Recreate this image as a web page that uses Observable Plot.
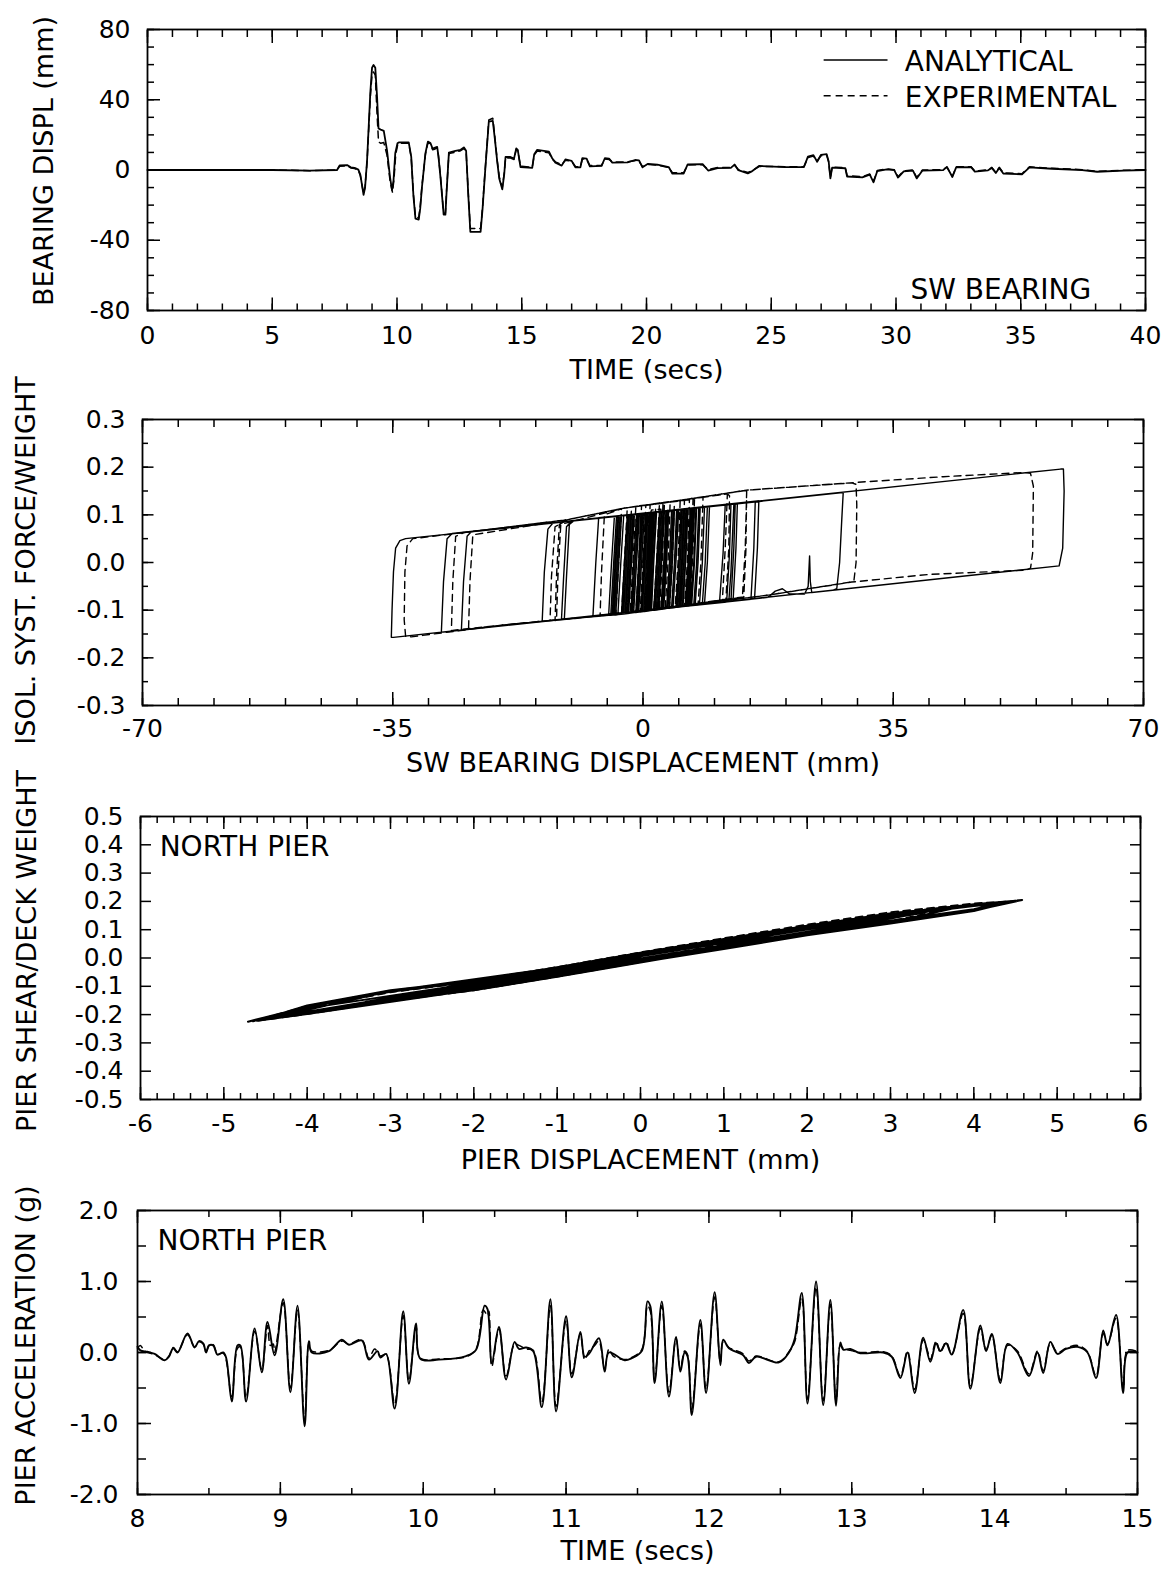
<!DOCTYPE html>
<html>
<head>
<meta charset="utf-8">
<script src="https://cdn.jsdelivr.net/npm/d3@7"></script>
<script src="https://cdn.jsdelivr.net/npm/@observablehq/plot@0.6"></script>
<style>
  html, body { margin: 0; padding: 0; background: #fff; }
  #figure { position: relative; width: 1168px; height: 1571px; background: #fff; }
  #figure svg { position: absolute; left: 0; }
</style>
</head>
<body>
<div id="figure"></div>
<script>
// ---------- Panel 1: SW bearing displacement history (time s, displacement mm) ----------
const bearingAnalytical = [[0,0],[5,0],[6.5,-0.3],[7.6,0],[7.7,2.6],[8.0,2.8],[8.15,1.5],[8.3,1.2],[8.45,0.2],[8.53,-2.6],[8.66,-14.1],[8.72,-10],[8.8,5.3],[8.93,43.9],[9.0,58.3],[9.06,59.8],[9.13,58.2],[9.2,41.9],[9.26,23.6],[9.35,23],[9.47,22.3],[9.6,11.2],[9.72,-4],[9.8,-11.4],[9.86,-6],[9.93,9.5],[10.02,15.2],[10.07,15.7],[10.47,15.7],[10.57,7.6],[10.66,-15],[10.74,-27.7],[10.87,-28.2],[10.93,-22],[11.0,-9.8],[11.14,9.6],[11.24,16.2],[11.34,15.4],[11.43,12.0],[11.5,12.6],[11.61,13.2],[11.66,8],[11.74,-3.8],[11.87,-25.4],[11.94,-25.4],[11.99,-12],[12.08,9.9],[12.34,10.9],[12.55,11.5],[12.68,12.9],[12.77,11.0],[12.86,-15],[12.94,-35.2],[13.35,-35.2],[13.43,-22],[13.52,-3.3],[13.68,27.6],[13.84,28.0],[13.92,18],[14.02,4.5],[14.1,-5],[14.22,-11.0],[14.3,-2],[14.35,7.4],[14.55,7.4],[14.69,6.5],[14.78,12.3],[14.84,11.5],[14.95,1.7],[15.42,1.2],[15.5,9],[15.62,11.5],[16.09,10.5],[16.22,6.7],[16.35,4.2],[16.6,2.5],[16.75,6],[17.0,5.2],[17.15,1.5],[17.35,1.5],[17.43,6.8],[17.6,6.5],[17.73,2.1],[18.2,2.3],[18.33,6.7],[18.5,6.5],[18.63,4.2],[19.24,4.3],[19.54,5.7],[19.7,5.5],[19.84,1.5],[20.06,3.5],[20.44,3.0],[20.89,1.7],[21.04,-2.1],[21.49,-2.0],[21.65,3.2],[22.25,3.3],[22.47,-0.3],[22.85,1.1],[23.38,1.2],[23.53,3.1],[23.68,-0.1],[24.06,-1.9],[24.2,-1],[24.51,2.3],[25.56,1.6],[26.31,1.7],[26.47,7.6],[26.69,8.5],[26.84,4.7],[26.99,8.6],[27.22,9.0],[27.3,5],[27.37,-4.8],[27.44,1.4],[27.97,1.0],[28.04,-3.7],[28.65,-4.2],[28.95,-2.6],[29.1,-7.0],[29.25,-0.6],[29.63,0.4],[29.93,-0.1],[30.08,-4.3],[30.31,-0.8],[30.68,-0.3],[30.83,-4.8],[31.06,-0.3],[31.89,-0.1],[32.04,1.8],[32.26,-4.0],[32.41,1.5],[33.01,1.6],[33.16,-0.9],[33.69,-0.2],[33.84,1.2],[34.0,-1.7],[34.14,1.2],[34.3,-2.0],[35.05,-2.5],[35.35,1.5],[36.25,0.7],[37.46,-0.1],[38.06,-1.0],[39.12,-0.4],[40,0]];

const bearingExperimental = [[0,0],[5,0],[6.5,-0.4],[7.6,0],[7.7,2.2],[8.0,2.4],[8.15,1.2],[8.3,0.8],[8.45,-0.2],[8.53,-3.2],[8.66,-13.5],[8.72,-9.5],[8.8,4.5],[8.93,41.5],[9.0,54.5],[9.06,55.8],[9.13,54],[9.2,32],[9.26,16],[9.35,15.2],[9.47,15.6],[9.6,8.5],[9.72,-6],[9.82,-12.8],[9.88,-5],[9.95,9],[10.03,14.5],[10.07,15.2],[10.47,15.3],[10.57,7],[10.66,-14],[10.74,-26.8],[10.87,-27.2],[10.93,-21],[11.0,-9],[11.14,9],[11.24,15.5],[11.34,15],[11.43,11.5],[11.5,11.8],[11.61,12.6],[11.66,8],[11.74,-3],[11.87,-24.6],[11.94,-24.6],[11.99,-11],[12.08,9.4],[12.34,10.2],[12.55,11],[12.68,12.2],[12.77,10.5],[12.86,-14],[12.94,-33.3],[13.35,-33.3],[13.43,-21],[13.52,-2.5],[13.68,28.5],[13.84,29.5],[13.92,19],[14.02,5],[14.1,-4],[14.22,-10],[14.3,-1.5],[14.35,6.8],[14.55,6.8],[14.69,6],[14.78,11.8],[14.84,11],[14.95,2.2],[15.42,1.6],[15.5,8.5],[15.62,10.8],[16.09,9.8],[16.22,6.2],[16.35,4.6],[16.6,3],[16.75,5.6],[17.0,5],[17.15,2],[17.35,1.8],[17.43,6.3],[17.6,6],[17.73,2.5],[18.2,2.6],[18.33,6.2],[18.5,6],[18.63,4.6],[19.24,4.6],[19.54,5.3],[19.7,5],[19.84,1.9],[20.06,3.2],[20.44,2.7],[20.89,1.4],[21.04,-1.6],[21.49,-1.6],[21.65,2.9],[22.25,3],[22.47,0.2],[22.85,1.4],[23.38,1.5],[23.53,2.8],[23.68,0.3],[24.06,-1.4],[24.2,-0.7],[24.51,2],[25.56,1.9],[26.31,1.9],[26.47,7],[26.69,7.9],[26.84,5.1],[26.99,8.1],[27.22,8.5],[27.3,4.5],[27.37,-4.2],[27.44,1.7],[27.97,1.3],[28.04,-3.2],[28.65,-3.8],[28.95,-2.3],[29.1,-6.4],[29.25,-0.3],[29.63,0.7],[29.93,0.2],[30.08,-3.8],[30.31,-0.5],[30.68,0],[30.83,-4.3],[31.06,0],[31.89,0.2],[32.04,1.6],[32.26,-3.6],[32.41,1.8],[33.01,1.9],[33.16,-0.6],[33.69,0.1],[33.84,1.5],[34.0,-1.3],[34.14,1.5],[34.3,-1.6],[35.05,-2.1],[35.35,1.8],[36.25,1],[37.46,0.2],[38.06,-0.7],[39.12,-0.2],[40,0.2]];

// ---------- Panel 2: isolation system hysteresis (bearing displacement mm, force/weight) ----------
const isolatorAnalytical = [[0,0],[0.4,0.07],[1,0.105],[2.8,0.107],[2.6,0.02],[2.2,-0.098],
[-13.6,-0.123],[-14.1,-0.124],[-13.8,-0.02],[-13.3,0.07],[-12.6,0.083],
[58.4,0.196],[58.8,0.196],[58.9,0.15],[58.7,0.03],[58.2,-0.007],
[23.6,-0.063],[23.4,-0.04],[23.3,0.014],[23.1,-0.05],[22.6,-0.066],[20.5,-0.066],[19.5,-0.055],[18.5,-0.06],[17.5,-0.073],
[-11.2,-0.119],[-11.4,-0.119],[-11.1,-0.03],[-10.7,0.075],[-10,0.087],
[15.5,0.128],[15.7,0.128],[15.5,0.03],[15.1,-0.077],
[-27.9,-0.146],[-28.2,-0.146],[-27.9,-0.04],[-27.4,0.05],[-26.7,0.061],
[16,0.129],[16.2,0.129],[16,0.03],[15.6,-0.076],
[12,-0.082],[12.3,-0.02],[12.7,0.12],[13.2,0.124],[13,0.03],[12.6,-0.08],
[-25.1,-0.141],[-25.4,-0.142],[-25.1,-0.04],[-24.6,0.055],[-24,0.065],
[12.9,0.124],[12.7,0.03],[12.3,-0.081],
[-34.9,-0.157],[-35.2,-0.157],[-35.1,-0.1],[-34.9,-0.02],[-34.6,0.03],[-34,0.046],[-33.2,0.05],
[27.6,0.146],[28,0.146],[27.8,0.09],[27.5,0],[27.1,-0.055],[26.6,-0.058],
[-10.7,-0.118],[-11,-0.119],[-10.7,-0.03],[-10.3,0.08],[-9.6,0.088],
[7.4,0.114],[7.1,0],[6.6,-0.091],[6.5,-0.091],[6.8,0],[7.2,0.114],
[12.3,0.122],[12.1,0.02],[11.7,-0.083],[1.2,-0.099],[1.5,0],[1.9,0.106],
[11.5,0.121],[11.2,0.02],[10.7,-0.084],[2.2,-0.097],[2.6,0],[3,0.108],
[6.3,0.113],[6,0.01],[5.6,-0.092],[1.5,-0.099],[1.9,0],[2.3,0.106],
[6.8,0.113],[6.5,0],[6.1,-0.091],[2.1,-0.098],[2.5,0],[2.9,0.107],
[6.7,0.113],[6.4,0],[6,-0.091],[4.2,-0.094],[4.6,0],[5,0.111],
[5.7,0.112],[5.4,0],[5,-0.093],[1.5,-0.099],[1.9,0],[2.3,0.106],
[3.5,0.109],[3.2,0],[2.8,-0.096],[-2.1,-0.104],[-1.7,0],[-1.3,0.101],
[3.3,0.108],[3,0],[2.6,-0.097],[-0.3,-0.101],[0.1,0],[0.5,0.104],
[9,0.117],[8.7,0],[8.3,-0.087],[-4.8,-0.109],[-4.4,0],[-4,0.097],
[8.6,0.116],[8.3,0],[7.9,-0.088],[-4.2,-0.108],[-3.8,0],[-3.4,0.098],
[1.4,0.105],[1.1,0],[0.7,-0.1],[-4.2,-0.108],[-3.8,0],[-3.4,0.098],
[1.0,0.105],[0.7,0],[0.3,-0.1],[-7,-0.112],[-6.6,0],[-6.2,0.094],
[0.4,0.104],[0.1,0],[-0.3,-0.101],[-4.3,-0.108],[-3.9,0],[-3.5,0.097],
[-0.3,0.102],[-0.6,0],[-1,-0.103],[-4.8,-0.109],[-4.4,0],[-4,0.097],
[1.8,0.106],[1.5,0],[1.1,-0.099],[-4,-0.107],[-3.6,0],[-3.2,0.098],
[1.6,0.106],[1.3,0],[0.9,-0.1],[-0.9,-0.102],[-0.5,0],[-0.1,0.103],
[1.2,0.105],[0.9,0],[0.5,-0.1],[-1.7,-0.104],[-1.3,0],[-0.9,0.101],
[1.2,0.105],[0.9,0],[0.5,-0.1],[-2.5,-0.105],[-2.1,0],[-1.7,0.1],
[1.5,0.105],[1.2,0],[0.8,-0.1],[-0.2,-0.101],[0.2,0],[0.6,0.104],
[9.3,0.118],[9,0],[8.6,-0.087],[-4.5,-0.108],[-4.1,0],[-3.7,0.097],
[8,0.116],[7.7,0],[7.3,-0.089],[-3.5,-0.107],[-3.1,0],[-2.7,0.098],
[7.5,0.115],[7.2,0],[6.8,-0.09],[-3,-0.106],[-2.6,0],[-2.2,0.099],
[7,0.114],[6.7,0],[6.3,-0.091],[-2.7,-0.105],[-2.3,0],[-1.9,0.1],
[6.6,0.113],[6.3,0],[5.9,-0.091],[-2.4,-0.105],[-2,0],[-1.6,0.1],
[6.2,0.113],[5.9,0],[5.5,-0.092],[-2,-0.104],[-1.6,0],[-1.2,0.101],
[5.8,0.112],[5.5,0],[5.1,-0.093],[-1.7,-0.104],[-1.3,0],[-0.9,0.101],
[5.3,0.111],[5,0],[4.6,-0.094],[-1.3,-0.103],[-0.9,0],[-0.5,0.102],
[4.9,0.111],[4.6,0],[4.2,-0.094],[-1,-0.103],[-0.6,0],[-0.2,0.103],
[4.4,0.11],[4.1,0],[3.7,-0.095],[-0.6,-0.102],[-0.2,0],[0.2,0.103],
[4,0.109],[3.7,0],[3.3,-0.096],[-0.3,-0.101],[0.1,0],[0.5,0.104],
[3.6,0.109],[3.3,0],[2.9,-0.096],[0.1,-0.101],[0.5,0],[0.9,0.104],
[3.2,0.108],[2.9,0],[2.5,-0.097],[0.4,-0.1],[0.8,0],[1.2,0.105],
[2.8,0.107],[2.5,0],[2.1,-0.098],[0.8,-0.1],[1.2,0],[1.6,0.105],
[2.4,0.107],[2.1,0],[1.7,-0.098],[1.2,-0.099],[1.5,0],[1.9,0.106],
[7.8,0.115],[7.5,0],[7.1,-0.089],[-3.8,-0.107],[-3.4,0],[-3.0,0.098],
[6.9,0.114],[6.6,0],[6.2,-0.091],[-2.9,-0.106],[-2.5,0],[-2.1,0.099],
[6.0,0.112],[5.7,0],[5.3,-0.092],[-2.2,-0.104],[-1.8,0],[-1.4,0.1],
[5.5,0.112],[5.2,0],[4.8,-0.093],[-1.5,-0.103],[-1.1,0],[-0.7,0.101],
[4.7,0.11],[4.4,0],[4.0,-0.094],[-0.8,-0.102],[-0.4,0],[0,0.103],
[4.2,0.109],[3.9,0],[3.5,-0.095],[-0.1,-0.101],[0.3,0],[0.7,0.104],
[3.4,0.108],[3.1,0],[2.7,-0.096],[0.6,-0.1],[1.0,0],[1.4,0.105],
[2.6,0.107],[2.3,0],[1.9,-0.098]];

const isolatorExperimental = [[0,0],[0.5,0.08],[1.2,0.11],[2.5,0.112],[2.3,0.02],[1.9,-0.098],
[-2.7,-0.108],[-12.6,-0.121],[-13,-0.122],[-12.8,-0.03],[-12.3,0.075],[-10.5,0.09],[-2.7,0.114],[5,0.13],[14.7,0.152],[29.8,0.168],[42,0.18],[53.4,0.189],[54.2,0.187],[54.6,0.16],[54.5,0.02],[54.2,-0.012],[53.6,-0.016],
[40,-0.025],[29.2,-0.041],[17.7,-0.068],[-2.7,-0.108],[-12,-0.121],[-12.3,-0.122],[-12.1,-0.03],[-11.7,0.08],[-10.5,0.09],[-2.7,0.114],[5,0.13],[14.2,0.151],[14.5,0.15],[14.4,0.03],[14.1,-0.072],
[-2.7,-0.108],[-18.4,-0.129],[-26.4,-0.142],[-26.8,-0.143],[-26.6,-0.04],[-26.2,0.055],[-25,0.063],[-10.5,0.09],[-2.7,0.114],[5,0.13],[14.2,0.151],[14.5,0.15],[14.3,0.03],[13.9,-0.073],
[-2.7,-0.108],[-18.4,-0.129],[-24,-0.139],[-24.4,-0.14],[-24.2,-0.04],[-23.8,0.058],[-10.5,0.09],[-2.7,0.114],[5,0.13],[11.8,0.144],[12.1,0.14],[12,0.03],[11.6,-0.077],
[-2.7,-0.108],[-18.4,-0.129],[-32.4,-0.156],[-33.2,-0.155],[-33.4,-0.12],[-33.3,-0.02],[-33,0.035],[-32.2,0.05],[-25,0.063],[-10.5,0.09],[-2.7,0.114],[5,0.13],[14.7,0.152],[29.2,0.167],[29.8,0.164],[29.9,0.12],[29.8,0],[29.5,-0.038],[29,-0.041],
[17.7,-0.068],[-2.7,-0.108],[-11.8,-0.12],[-12.1,-0.121],[-11.9,-0.03],[-11.5,0.08],[-2.7,0.114],[7.2,0.133],[7.0,0.03],[6.6,-0.088],
[-5.7,-0.11],[-6,-0.111],[-5.8,-0.02],[-5.4,0.1],[-2.7,0.114],[11.8,0.144],[11.5,0.03],[11.1,-0.08],
[1.5,-0.1],[1.9,0],[2.3,0.124],[6.5,0.133],[6.2,0],[5.8,-0.091],
[-1.8,-0.106],[-1.4,0],[-1,0.118],[8.4,0.137],[8.1,0],[7.7,-0.088],
[-3.8,-0.11],[-3.4,0],[-3,0.113],[5.2,0.13],[4.9,0],[4.5,-0.094],
[-2.4,-0.107],[-2,0],[-1.6,0.116],[7,0.134],[6.7,0],[6.3,-0.09],
[-1,-0.105],[-0.6,0],[-0.2,0.119],[3.8,0.128],[3.5,0],[3.1,-0.097],
[0.2,-0.103],[0.6,0],[1,0.121],[5.8,0.131],[5.5,0],[5.1,-0.093],
[-3,-0.108],[-2.6,0],[-2.2,0.115],[2.8,0.126],[2.5,0],[2.1,-0.098],
[-0.4,-0.104],[0,0],[0.4,0.12],[4.4,0.128],[4.1,0],[3.7,-0.096],
[1,-0.101],[1.4,0],[1.8,0.123],[3,0.126],[2.7,0],[2.3,-0.098]];

// ---------- Panel 3: north pier shear vs pier displacement (mm, shear/deck weight) ----------
const pierAnalytical = [[-4.71,-0.225],[-4,-0.172],[-3,-0.119],[-2,-0.083],[-1,-0.036],[0,0.016],[1,0.064],[2,0.111],[3,0.153],[4,0.188],[4.58,0.205],
[4,0.168],[3,0.126],[2,0.083],[1,0.036],[0,-0.012],[-1,-0.064],[-2,-0.111],[-3,-0.147],[-4,-0.195],[-4.5,-0.215],
[-4,-0.178],[-2,-0.089],[0,0.01],[2,0.105],[3,0.148],[4,0.184],[4.3,0.193],
[4,0.172],[3,0.132],[2,0.089],[0,-0.006],[-2,-0.105],[-3,-0.141],[-4,-0.19],[-4.4,-0.21],
[-3,-0.117],[-1,-0.034],[1,0.066],[2,0.113],[3,0.155],[3.8,0.178],
[3,0.126],[2,0.081],[1,0.034],[-1,-0.066],[-2,-0.113],[-3,-0.149],[-3.8,-0.18],
[-2,-0.093],[0,0.006],[2,0.101],[3.4,0.16],
[2,0.093],[0,-0.002],[-2,-0.101],[-3.3,-0.155],
[-2,-0.086],[0,0.013],[1,0.061],[2.6,0.13],
[2,0.086],[1,0.039],[0,-0.009],[-1,-0.061],[-2.6,-0.128],
[0,0.006],[1.8,0.094],[1,0.046],[0,-0.004],[-1.8,-0.09],[-1,-0.046],[0,0],
[-2,-0.112],[-4,-0.198],[-4.6,-0.222],
[-4,-0.168],[-3,-0.114],[-2,-0.08],[-1,-0.033],[0,0.019],[1,0.067],[2,0.114],[3,0.156],[4,0.19],[4.5,0.202],
[4,0.166],[3,0.122],[2,0.08],[1,0.032],[0,-0.015],[-1,-0.066],[-2,-0.114],[-3,-0.151],[-3.6,-0.176],
[-2,-0.09],[0,0.01],[2,0.108],[3,0.15],[3.6,0.172],
[2,0.085],[0,-0.01],[-2,-0.108],[-2.2,-0.112],[0,0]];

const pierExperimental = [[-4.65,-0.224],[-4,-0.17],[-3,-0.116],[-2,-0.08],[-1,-0.032],[0,0.02],[1,0.07],[2,0.118],[3,0.162],[4,0.193],[4.45,0.2],
[4,0.17],[3,0.128],[2,0.085],[1,0.038],[0,-0.014],[-1,-0.066],[-2,-0.114],[-3,-0.152],[-4,-0.198],[-4.6,-0.222],
[-4,-0.176],[-3,-0.121],[-2,-0.084],[0,0.015],[2,0.114],[3,0.158],[3.9,0.186],
[3,0.13],[2,0.087],[0,-0.01],[-2,-0.11],[-3,-0.15],[-3.9,-0.19],
[-2,-0.088],[0,0.012],[1,0.063],[2.8,0.15],
[2,0.09],[1,0.04],[0,-0.008],[-1,-0.06],[-2.8,-0.14],
[0,0.008],[2,0.104],[0,-0.004],[-2,-0.102],[0,0]];

// ---------- Panel 4: north pier acceleration history (time s, g) ----------
const pierAccAnalytical = [[8,0.08],[8.02,0.03],[8.07,0.01],[8.12,-0.02],[8.19,-0.11],[8.22,-0.06],[8.25,0.06],[8.28,0],[8.35,0.27],[8.4,0.07],[8.43,0.16],[8.46,0.13],[8.48,0],[8.5,0.1],[8.53,0.1],[8.56,-0.03],[8.6,0],[8.62,-0.07],[8.66,-0.69],[8.7,0.1],[8.72,0.1],[8.76,-0.69],[8.82,0.34],[8.87,-0.28],[8.91,0.43],[8.96,-0.04],[9.02,0.75],[9.07,-0.56],[9.12,0.66],[9.17,-1.04],[9.2,0.16],[9.22,0],[9.34,0.02],[9.43,0.18],[9.48,0.11],[9.57,0.17],[9.62,-0.1],[9.68,0.02],[9.7,-0.07],[9.74,-0.02],[9.8,-0.79],[9.86,0.58],[9.9,-0.44],[9.95,0.41],[9.98,-0.09],[10.11,-0.1],[10.3,-0.05],[10.37,0.04],[10.43,0.66],[10.45,0.61],[10.48,-0.15],[10.53,0.36],[10.58,-0.38],[10.64,0.15],[10.67,0.05],[10.72,0.07],[10.77,0.02],[10.83,-0.77],[10.89,0.75],[10.93,-0.83],[11.0,0.51],[11.04,-0.35],[11.1,0.29],[11.13,-0.06],[11.16,-0.02],[11.23,0.2],[11.27,-0.27],[11.3,0],[11.41,-0.11],[11.46,-0.08],[11.53,0.02],[11.57,0.72],[11.59,0.65],[11.62,-0.43],[11.67,0.72],[11.72,-0.62],[11.77,0.22],[11.8,-0.27],[11.83,0],[11.85,-0.05],[11.88,-0.88],[11.94,0.46],[11.98,-0.57],[12.04,0.85],[12.08,-0.18],[12.1,0.18],[12.14,0.06],[12.24,-0.04],[12.28,-0.15],[12.33,-0.06],[12.49,-0.14],[12.56,0],[12.6,0.19],[12.65,0.84],[12.69,-0.72],[12.75,1.0],[12.8,-0.74],[12.85,0.74],[12.89,-0.75],[12.92,0.14],[12.94,0.04],[12.99,0.05],[13.06,-0.01],[13.22,0],[13.28,-0.06],[13.34,-0.36],[13.39,0],[13.44,-0.57],[13.5,0.21],[13.55,-0.13],[13.59,0.13],[13.62,0.02],[13.66,0.13],[13.7,-0.03],[13.78,0.6],[13.83,-0.51],[13.9,0.38],[13.94,0.02],[13.98,0.26],[14.04,-0.43],[14.09,0.12],[14.16,0],[14.24,-0.33],[14.3,0],[14.34,-0.29],[14.39,0.15],[14.44,-0.02],[14.5,0.05],[14.58,0.08],[14.65,0],[14.71,-0.36],[14.76,0.31],[14.79,0.1],[14.85,0.53],[14.9,-0.57],[14.93,0],[15,0]];

const pierAccExperimental = [[8,0.06],[8.02,0.1],[8.05,0.02],[8.12,-0.03],[8.19,-0.1],[8.22,-0.05],[8.25,0.07],[8.28,0.01],[8.35,0.25],[8.4,0.08],[8.43,0.15],[8.46,0.12],[8.48,0.01],[8.5,0.09],[8.53,0.11],[8.56,-0.02],[8.6,-0.01],[8.62,-0.1],[8.66,-0.62],[8.7,0.06],[8.72,0.08],[8.76,-0.64],[8.82,0.3],[8.87,-0.24],[8.91,0.38],[8.93,0.1],[8.95,0.12],[8.96,0],[9.02,0.7],[9.07,-0.5],[9.12,0.6],[9.17,-0.96],[9.2,0.12],[9.22,0.02],[9.34,0.03],[9.43,0.16],[9.48,0.12],[9.57,0.18],[9.62,-0.08],[9.66,0.05],[9.7,-0.05],[9.74,-0.03],[9.8,-0.72],[9.86,0.52],[9.9,-0.4],[9.95,0.36],[9.98,-0.08],[10.11,-0.09],[10.3,-0.06],[10.37,0.05],[10.42,0.6],[10.45,0.52],[10.46,0.58],[10.48,-0.2],[10.53,0.33],[10.58,-0.33],[10.64,0.12],[10.67,0.1],[10.72,0.05],[10.77,0.03],[10.83,-0.7],[10.89,0.66],[10.93,-0.76],[11.0,0.45],[11.04,-0.3],[11.1,0.26],[11.13,-0.1],[11.16,0.02],[11.2,0.1],[11.23,0.16],[11.27,-0.22],[11.3,0.05],[11.33,-0.05],[11.41,-0.1],[11.46,-0.07],[11.53,0.04],[11.57,0.66],[11.59,0.58],[11.62,-0.38],[11.67,0.66],[11.72,-0.56],[11.77,0.2],[11.8,-0.22],[11.83,0.02],[11.85,-0.03],[11.88,-0.8],[11.94,0.4],[11.98,-0.52],[12.04,0.78],[12.08,-0.14],[12.1,0.15],[12.14,0.07],[12.24,-0.02],[12.28,-0.12],[12.33,-0.05],[12.49,-0.13],[12.56,0.01],[12.6,0.15],[12.65,0.76],[12.69,-0.66],[12.75,0.92],[12.8,-0.68],[12.85,0.68],[12.89,-0.7],[12.92,0.1],[12.94,0.06],[12.99,0.03],[13.06,0],[13.22,0.01],[13.28,-0.05],[13.34,-0.33],[13.39,0.02],[13.44,-0.52],[13.5,0.18],[13.53,0.02],[13.55,-0.1],[13.59,0.16],[13.62,0],[13.66,0.15],[13.7,-0.02],[13.78,0.55],[13.83,-0.47],[13.9,0.34],[13.94,0.04],[13.98,0.24],[14.04,-0.39],[14.09,0.1],[14.16,0.02],[14.24,-0.3],[14.3,0.02],[14.34,-0.26],[14.39,0.13],[14.44,0],[14.5,0.06],[14.58,0.1],[14.65,0.01],[14.71,-0.33],[14.76,0.27],[14.79,0.12],[14.85,0.48],[14.9,-0.52],[14.93,0.03],[15,0.01]];

// ---------- Tick values and labels ----------
const p1XTicks = [0, 5, 10, 15, 20, 25, 30, 35, 40];
const p1XLabels = ["0", "5", "10", "15", "20", "25", "30", "35", "40"];
const p1YTicks = [-80, -40, 0, 40, 80];
const p1YLabels = ["-80", "-40", "0", "40", "80"];

const p2XTicks = [-70, -35, 0, 35, 70];
const p2XLabels = ["-70", "-35", "0", "35", "70"];
const p2YTicks = [-0.3, -0.2, -0.1, 0, 0.1, 0.2, 0.3];
const p2YLabels = ["-0.3", "-0.2", "-0.1", "0.0", "0.1", "0.2", "0.3"];

const p3XTicks = [-6, -5, -4, -3, -2, -1, 0, 1, 2, 3, 4, 5, 6];
const p3XLabels = ["-6", "-5", "-4", "-3", "-2", "-1", "0", "1", "2", "3", "4", "5", "6"];
const p3YTicks = [-0.5, -0.4, -0.3, -0.2, -0.1, 0, 0.1, 0.2, 0.3, 0.4, 0.5];
const p3YLabels = ["-0.5", "-0.4", "-0.3", "-0.2", "-0.1", "0.0", "0.1", "0.2", "0.3", "0.4", "0.5"];

const p4XTicks = [8, 9, 10, 11, 12, 13, 14, 15];
const p4XLabels = ["8", "9", "10", "11", "12", "13", "14", "15"];
const p4YTicks = [-2, -1, 0, 1, 2];
const p4YLabels = ["-2.0", "-1.0", "0.0", "1.0", "2.0"];

const seriesNames = ["ANALYTICAL", "EXPERIMENTAL"];

// ---------- Shared drawing helpers ----------
const FONT = '"DejaVu Sans", "Liberation Sans", sans-serif';
const INK = "#000";
const DASH = "7,5";

// inward-pointing tick marks (no labels)
function ticksIn(dim, anchor, values, size, width = 1.5) {
  const axis = dim === "x" ? Plot.axisX : Plot.axisY;
  return axis({anchor, ticks: values, tickSize: -size, stroke: INK, strokeWidth: width, fill: "none", label: null});
}

// tick labels only
function tickText(dim, anchor, values, labels, padding) {
  const axis = dim === "x" ? Plot.axisX : Plot.axisY;
  const lookup = new Map(values.map((v, i) => [v, labels[i]]));
  return axis({anchor, ticks: values, tickSize: 0, tickPadding: padding, tickFormat: d => lookup.get(d),
    fill: INK, fontSize: 25, label: null});
}

function xTitle(text, dy) {
  return Plot.text([text], {text: d => d, frameAnchor: "bottom", dy, textAnchor: "middle", lineAnchor: "middle", fontSize: 27, fill: INK});
}
function yTitle(text, dx, dy) {
  return Plot.text([text], {text: d => d, frameAnchor: "left", dx, dy, rotate: -90, textAnchor: "middle", lineAnchor: "middle", fontSize: 27, fill: INK});
}
function trace(data, dashed, curve = "linear", width) {
  return Plot.line(data, {x: d => d[0], y: d => d[1], stroke: INK, curve,
    strokeWidth: width ?? (dashed ? 1.5 : 1.8), strokeDasharray: dashed ? DASH : null, strokeLinejoin: "round"});
}

function panel({top, height, margin, xDomain, yDomain, marks}) {
  const [mt, mr, mb, ml] = margin;
  const svg = Plot.plot({
    width: 1168, height,
    marginTop: mt, marginRight: mr, marginBottom: mb, marginLeft: ml,
    style: {fontFamily: FONT, fontSize: "25px", color: INK, background: "transparent", overflow: "visible"},
    x: {domain: xDomain, label: null},
    y: {domain: yDomain, label: null},
    marks
  });
  svg.style.top = top + "px";
  document.getElementById("figure").appendChild(svg);
}

// ---------- Panel 1 ----------
panel({
  top: 0, height: 395, margin: [29, 23, 85, 147],
  xDomain: [0, 40], yDomain: [-80, 80],
  marks: [
    ticksIn("x", "bottom", d3.range(0, 41, 1), 6.5),
    ticksIn("x", "bottom", p1XTicks, 12.5),
    ticksIn("x", "top", d3.range(0, 41, 1), 7),
    ticksIn("x", "top", p1XTicks, 13),
    ticksIn("y", "left", d3.range(-80, 81, 10), 7),
    ticksIn("y", "left", p1YTicks, 13),
    ticksIn("y", "right", d3.range(-80, 81, 10), 10),
    Plot.frame({stroke: INK, strokeWidth: 1.8}),
    tickText("x", "bottom", p1XTicks, p1XLabels, 16),
    tickText("y", "left", p1YTicks, p1YLabels, 17),
    trace(bearingExperimental, true),
    trace(bearingAnalytical, false),
    Plot.ruleY([62.6], {x1: 27.12, x2: 29.68, stroke: INK, strokeWidth: 1.6}),
    Plot.ruleY([42.3], {x1: 27.12, x2: 29.68, stroke: INK, strokeWidth: 1.4, strokeDasharray: DASH}),
    Plot.text([seriesNames[0]], {text: d => d, x: 30.35, y: 61.7, textAnchor: "start", lineAnchor: "middle", fontSize: 28, fill: INK}),
    Plot.text([seriesNames[1]], {text: d => d, x: 30.35, y: 41.0, textAnchor: "start", lineAnchor: "middle", fontSize: 28, fill: INK}),
    Plot.text(["SW BEARING"], {text: d => d, x: 30.58, y: -68.2, textAnchor: "start", lineAnchor: "middle", fontSize: 28, fill: INK}),
    xTitle("TIME (secs)", 60),
    yTitle("BEARING DISPL (mm)", -103, -9)
  ]
});

// ---------- Panel 2 ----------
panel({
  top: 395, height: 395, margin: [24, 25, 85, 142],
  xDomain: [-70, 70], yDomain: [-0.3, 0.3],
  marks: [
    ticksIn("x", "bottom", d3.range(-70, 71, 5), 7),
    ticksIn("x", "bottom", p2XTicks, 13),
    ticksIn("x", "top", d3.range(-70, 71, 5), 7),
    ticksIn("x", "top", p2XTicks, 13),
    ticksIn("y", "left", d3.range(-6, 7).map(i => i * 0.05), 6),
    ticksIn("y", "left", p2YTicks, 11.5),
    ticksIn("y", "right", d3.range(-6, 7).map(i => i * 0.05), 10),
    Plot.frame({stroke: INK, strokeWidth: 1.8}),
    tickText("x", "bottom", p2XTicks, p2XLabels, 14),
    tickText("y", "left", p2YTicks, p2YLabels, 17),
    trace(isolatorExperimental, true, "linear", 1.4),
    trace(isolatorAnalytical, false, "linear", 1.4),
    xTitle("SW BEARING DISPLACEMENT (mm)", 58),
    yTitle("ISOL. SYST. FORCE/WEIGHT", -116, -2)
  ]
});

// ---------- Panel 3 ----------
panel({
  top: 790, height: 390, margin: [26, 28, 81, 140],
  xDomain: [-6, 6], yDomain: [-0.5, 0.5],
  marks: [
    ticksIn("x", "bottom", d3.range(-30, 31).map(i => i * 0.2), 6),
    ticksIn("x", "bottom", p3XTicks, 12),
    ticksIn("x", "top", d3.range(-30, 31).map(i => i * 0.2), 6),
    ticksIn("x", "top", p3XTicks, 12),
    ticksIn("y", "left", p3YTicks, 11),
    ticksIn("y", "right", p3YTicks, 11),
    Plot.frame({stroke: INK, strokeWidth: 1.8}),
    tickText("x", "bottom", p3XTicks, p3XLabels, 15),
    tickText("y", "left", p3YTicks, p3YLabels, 17),
    trace(pierExperimental, true, "linear", 1.8),
    trace(pierAnalytical, false, "linear", 2.0),
    Plot.text(["NORTH PIER"], {text: d => d, x: -5.77, y: 0.392, textAnchor: "start", lineAnchor: "middle", fontSize: 28, fill: INK}),
    xTitle("PIER DISPLACEMENT (mm)", 61),
    yTitle("PIER SHEAR/DECK WEIGHT", -113, -7)
  ]
});

// ---------- Panel 4 ----------
panel({
  top: 1180, height: 391, margin: [30, 31, 77, 137],
  xDomain: [8, 15], yDomain: [-2, 2],
  marks: [
    ticksIn("x", "bottom", d3.range(16, 31).map(i => i / 2), 6),
    ticksIn("x", "bottom", p4XTicks, 12),
    ticksIn("x", "top", d3.range(16, 31).map(i => i / 2), 6),
    ticksIn("x", "top", p4XTicks, 12),
    ticksIn("y", "left", d3.range(-4, 5).map(i => i / 2), 9),
    ticksIn("y", "left", p4YTicks, 14),
    ticksIn("y", "right", d3.range(-4, 5).map(i => i / 2), 8),
    ticksIn("y", "right", p4YTicks, 13),
    Plot.frame({stroke: INK, strokeWidth: 1.8}),
    tickText("x", "bottom", p4XTicks, p4XLabels, 15),
    tickText("y", "left", p4YTicks, p4YLabels, 19),
    trace(pierAccExperimental, true, "catmull-rom", 1.5),
    trace(pierAccAnalytical, false, "catmull-rom", 1.9),
    Plot.text(["NORTH PIER"], {text: d => d, x: 8.14, y: 1.57, textAnchor: "start", lineAnchor: "middle", fontSize: 28, fill: INK}),
    xTitle("TIME (secs)", 57),
    yTitle("PIER ACCELERATION (g)", -111, -7)
  ]
});
</script>
</body>
</html>
